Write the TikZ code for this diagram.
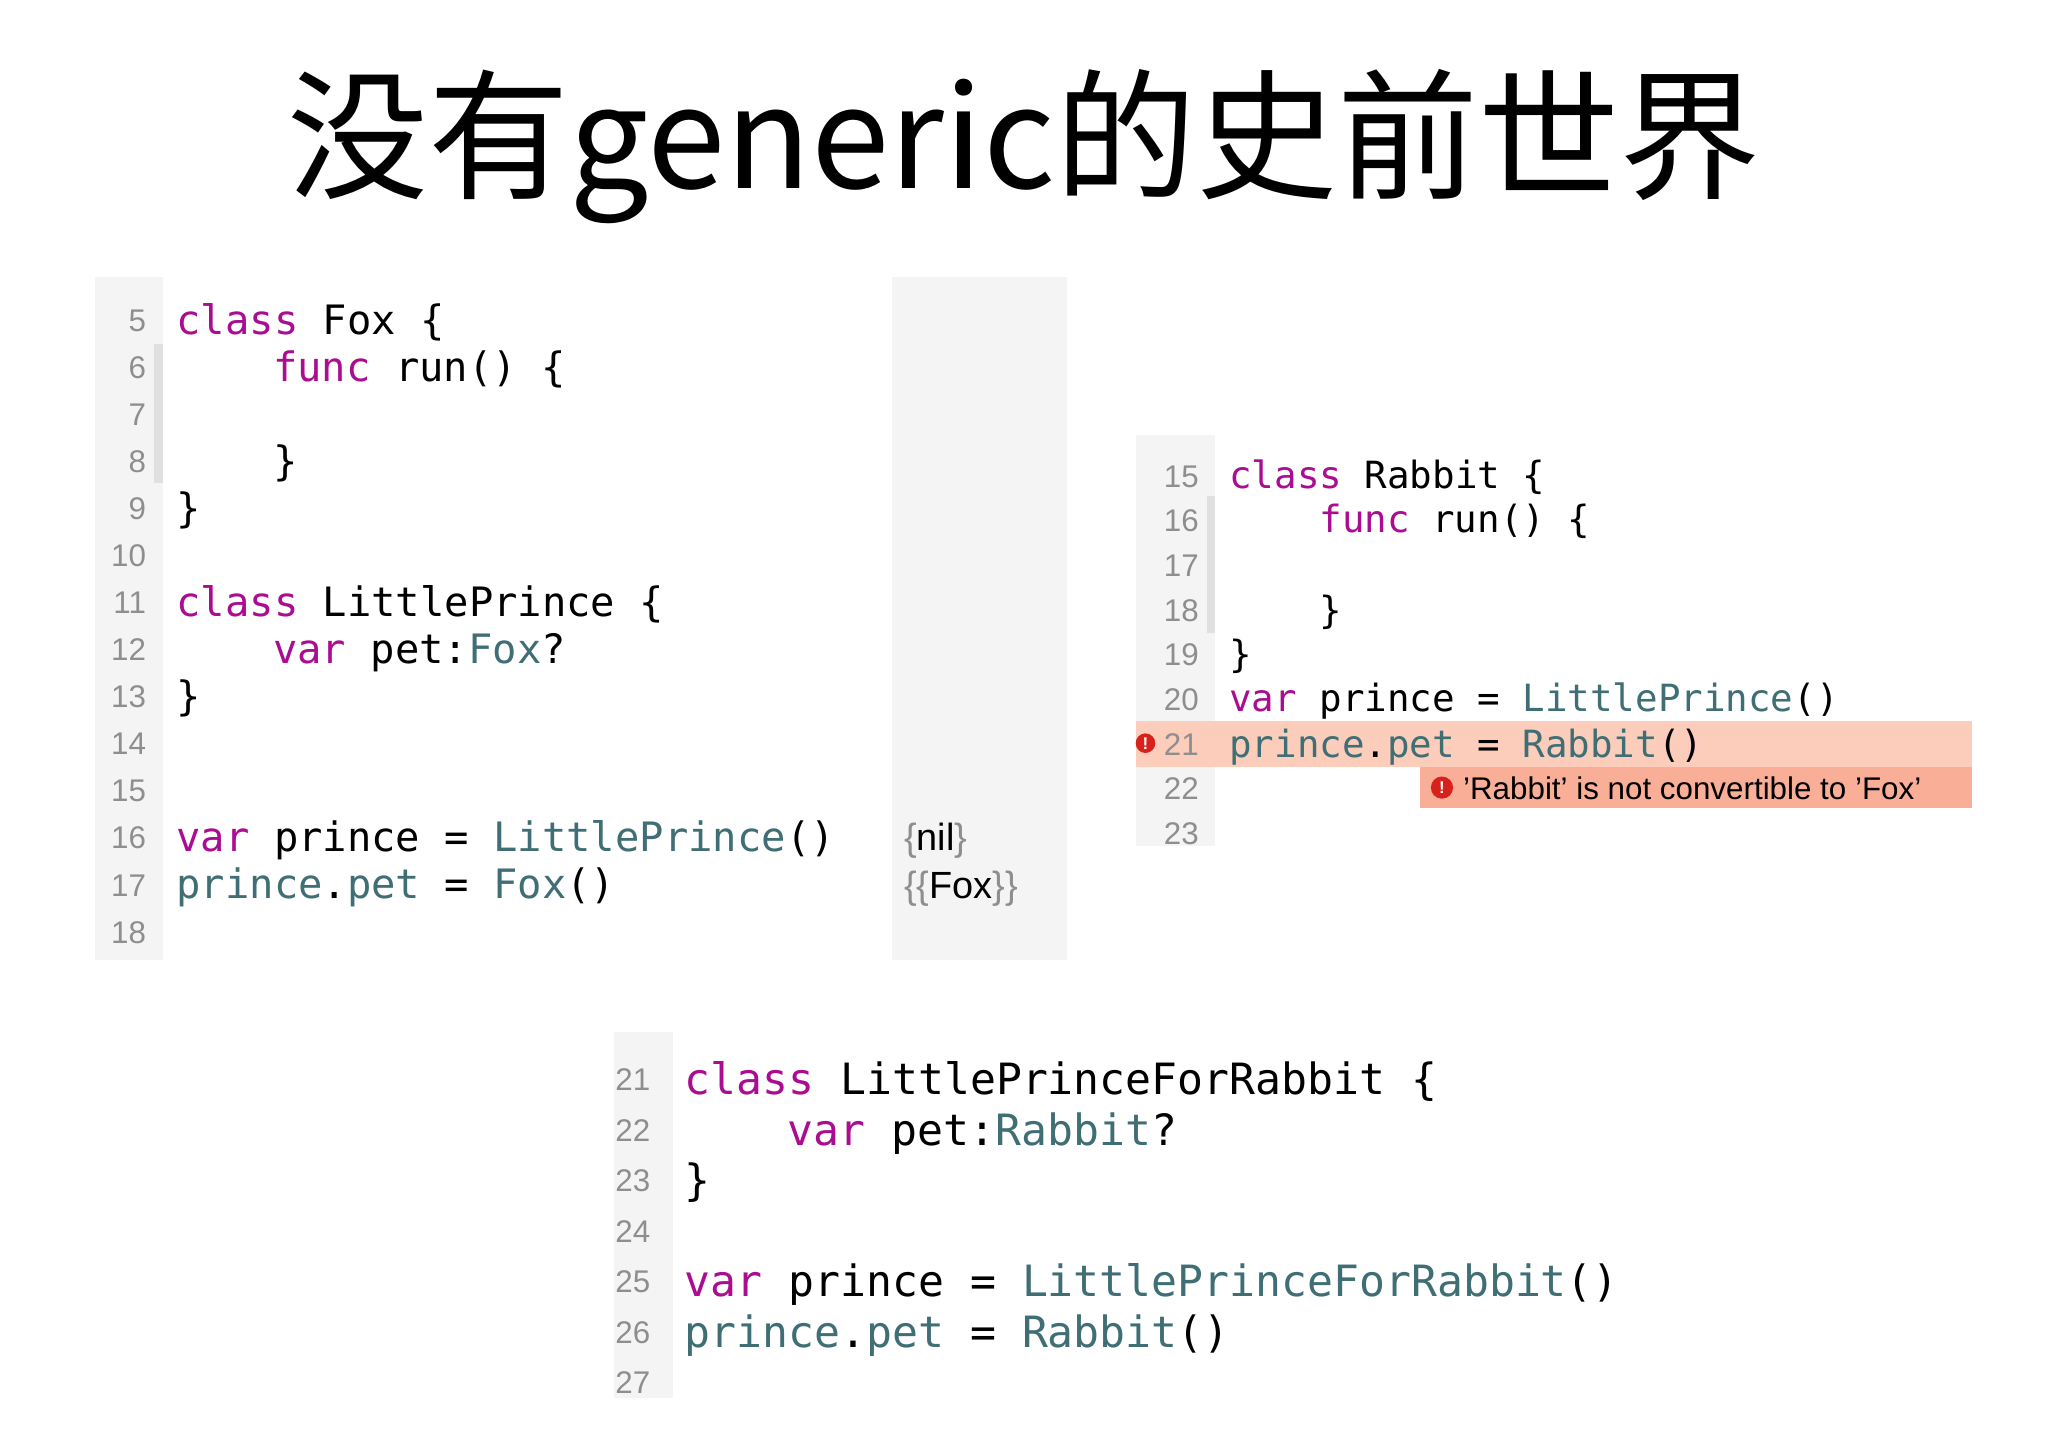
\documentclass[tikz,border=0pt]{standalone}
\usepackage{fontspec}
\setmainfont{Liberation Sans}
\setmonofont{DejaVu Sans Mono}
\newfontfamily\cjk{Noto Sans CJK SC}
\definecolor{kw}{HTML}{AA0D91}
\definecolor{ty}{HTML}{3F6E74}
\definecolor{gut}{HTML}{F4F4F4}
\definecolor{lnum}{HTML}{8E8E8E}
\definecolor{errrow}{HTML}{FCCDBB}
\definecolor{errbox}{HTML}{F9AE98}
\definecolor{errred}{HTML}{D8211B}
\tikzset{
 codeA/.style={anchor=base west,inner sep=0pt,font=\ttfamily\fontsize{31}{31}\selectfont},
 codeB/.style={anchor=base west,inner sep=0pt,font=\ttfamily\fontsize{28.7}{29}\selectfont},
 codeC/.style={anchor=base west,inner sep=0pt,font=\ttfamily\fontsize{33}{33}\selectfont},
 num/.style={anchor=base east,inner sep=0pt,text=lnum,font=\fontsize{24}{24}\selectfont},
 res/.style={anchor=base west,inner sep=0pt,font=\fontsize{29}{29}\selectfont},
}
\newcommand{\K}[1]{\textcolor{kw}{#1}}
\newcommand{\T}[1]{\textcolor{ty}{#1}}
\begin{document}
\begin{tikzpicture}[x=1pt,y=-1pt]
\useasboundingbox (0,0) rectangle (1568,1108);
\fill[white] (0,0) rectangle (1568,1108);
\node[font=\cjk\fontsize{108}{108}\selectfont,inner sep=0pt] (title) at (784,112) {没有generic的史前世界};
% left panel
\fill[gut] (73,212) rectangle (125,735);
\fill[black!12] (118,263) rectangle (125,370);
\fill[gut] (683,212) rectangle (817,735);
\foreach \n [count=\i from 0] in {5,...,18} {
  \node[num] (ln\n) at (112,{245+36*\i+9}) {\n};
}
\node[codeA] (a5) at (135,256) {\K{class} Fox \{};
\node[codeA] (a6) at (209,292) {\K{func} run() \{};
\node[codeA] (a8) at (209,364) {\}};
\node[codeA] (a9) at (135,400) {\}};
\node[codeA] (a11) at (135,472) {\K{class} LittlePrince \{};
\node[codeA] (a12) at (209,508) {\K{var} pet:\T{Fox}?};
\node[codeA] (a13) at (135,544) {\}};
\node[codeA] (a16) at (135,652) {\K{var} prince = \T{LittlePrince}()};
\node[codeA] (a17) at (135,688) {\T{prince}.\T{pet} = \T{Fox}()};
\node[res] (r1) at (692,651) {\textcolor{lnum}{\{}nil\textcolor{lnum}{\}}};
\node[res] (r2) at (692,688) {\textcolor{lnum}{\{\{}Fox\textcolor{lnum}{\}\}}};
% right panel
\fill[gut] (870,333) rectangle (930,648);
\fill[black!12] (924,380) rectangle (930,485);
\fill[errrow] (870,552) rectangle (1510,587);
\fill[errbox] (1087,587) rectangle (1510,619);
\foreach \n [count=\i from 0] in {15,...,23} {
  \node[num] (rn\n) at (918,{364+34.2*\i+9}) {\n};
}
\node[codeB] (b15) at (941,374) {\K{class} Rabbit \{};
\node[codeB] (b16) at (1010,408) {\K{func} run() \{};
\node[codeB] (b18) at (1010,477) {\}};
\node[codeB] (b19) at (941,511) {\}};
\node[codeB] (b20) at (941,545) {\K{var} prince = \T{LittlePrince}()};
\node[codeB] (b21) at (941,580) {\T{prince}.\T{pet} = \T{Rabbit}()};
\node[circle,fill=errred,minimum size=15pt,inner sep=0pt,text=white,font=\bfseries\fontsize{13}{13}\selectfont] (e1) at (877,569) {!};
\node[circle,fill=errred,minimum size=17pt,inner sep=0pt,text=white,font=\bfseries\fontsize{13}{13}\selectfont] (e2) at (1104,603) {!};
\node[anchor=base west,inner sep=0pt,font=\fontsize{24}{24}\selectfont] (msg) at (1120,612) {'Rabbit' is not convertible to 'Fox'};
% bottom panel
\fill[gut] (470,790) rectangle (515,1070);
\foreach \n [count=\i from 0] in {21,...,27} {
  \node[num] (bn\n) at (498,{826+38.7*\i+9}) {\n};
}
\node[codeC] (c21) at (524,838) {\K{class} LittlePrinceForRabbit \{};
\node[codeC] (c22) at (603,877) {\K{var} pet:\T{Rabbit}?};
\node[codeC] (c23) at (524,915) {\}};
\node[codeC] (c25) at (524,993) {\K{var} prince = \T{LittlePrinceForRabbit}()};
\node[codeC] (c26) at (524,1032) {\T{prince}.\T{pet} = \T{Rabbit}()};
\end{tikzpicture}
\end{document}
